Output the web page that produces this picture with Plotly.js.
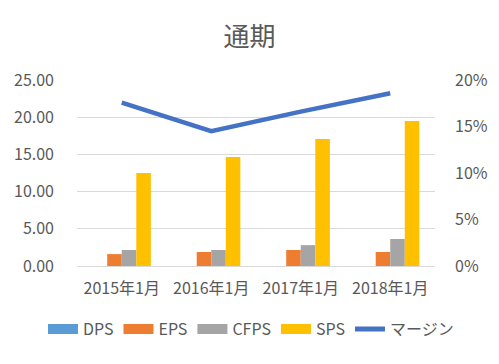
<!DOCTYPE html>
<html><head><meta charset="utf-8">
<script src="https://cdn.plot.ly/plotly-3.0.1.min.js"></script>
<style>body{margin:0;padding:0;background:#fff}#chart{width:499px;height:364px}</style>
</head><body><div id="chart"></div>
<script>
const categories = ['2015年1月','2016年1月','2017年1月','2018年1月'];
const seriesNames = ['DPS','EPS','CFPS','SPS'];
const dps = [0, 0, 0, 0];
const eps = [1.6, 1.88, 2.15, 1.88];
const cfps = [2.15, 2.15, 2.8, 3.63];
const sps = [12.5, 14.65, 17.07, 19.5];
const margin = [0.1756, 0.145, 0.166, 0.1857];
const marginName = 'マージン';
const leftTicks = [0, 5, 10, 15, 20, 25];
const rightTicks = [0, 0.05, 0.10, 0.15, 0.20];

const colors = ['#5B9BD5','#ED7D31','#A5A5A5','#FFC000'];
const F = 'Noto Sans CJK JP, sans-serif';
const barData = [dps, eps, cfps, sps];
const traces = [];
barData.forEach((d,i)=>{
  traces.push({type:'bar', name:seriesNames[i], x:categories, y:d, marker:{color:colors[i]}, showlegend:false});
});
traces.push({type:'scatter', mode:'lines', name:marginName, x:categories, y:margin, yaxis:'y2', line:{color:'#4472C4', width:4.5}, showlegend:false});
barData.forEach((d,i)=>{
  traces.push({type:'scatter', mode:'lines', name:seriesNames[i], x:[null], y:[null], line:{color:colors[i], width:10}, hoverinfo:'skip'});
});
traces.push({type:'scatter', mode:'lines', name:marginName, x:[null], y:[null], yaxis:'y2', line:{color:'#4472C4', width:5}, hoverinfo:'skip'});

const layout = {
  width:499, height:364,
  margin:{l:77, r:64, t:80, b:98, autoexpand:false},
  paper_bgcolor:'#fff', plot_bgcolor:'#fff',
  font:{family:F, color:'#595959', size:16},
  title:{text:'通期', x:0.5, xanchor:'center', y:0.898, yanchor:'middle', font:{family:F, size:26, color:'#595959'}},
  barmode:'group', bargap:0.35, bargroupgap:0,
  xaxis:{type:'category', showgrid:false, showline:false, ticks:'', tickfont:{size:16, color:'#595959'}, ticklabelstandoff:11},
  yaxis:{range:[0,25], tickvals:leftTicks, tickformat:'.2f', gridcolor:'#D9D9D9', gridwidth:1, zeroline:true, zerolinecolor:'#D9D9D9', tickfont:{size:16, color:'#595959'}, ticklabelstandoff:22},
  yaxis2:{range:[0,0.2], tickvals:rightTicks, tickformat:'.0%', overlaying:'y', side:'right', showgrid:false, zeroline:false, tickfont:{size:16, color:'#595959'}, ticklabelstandoff:19},
  legend:{orientation:'h', x:-0.095, xanchor:'left', y:-0.248, yanchor:'top', font:{size:16, color:'#595959'}, itemwidth:30, tracegroupgap:0},
  showlegend:true
};
Plotly.newPlot('chart', traces, layout, {displayModeBar:false, staticPlot:true});
</script></body></html>
